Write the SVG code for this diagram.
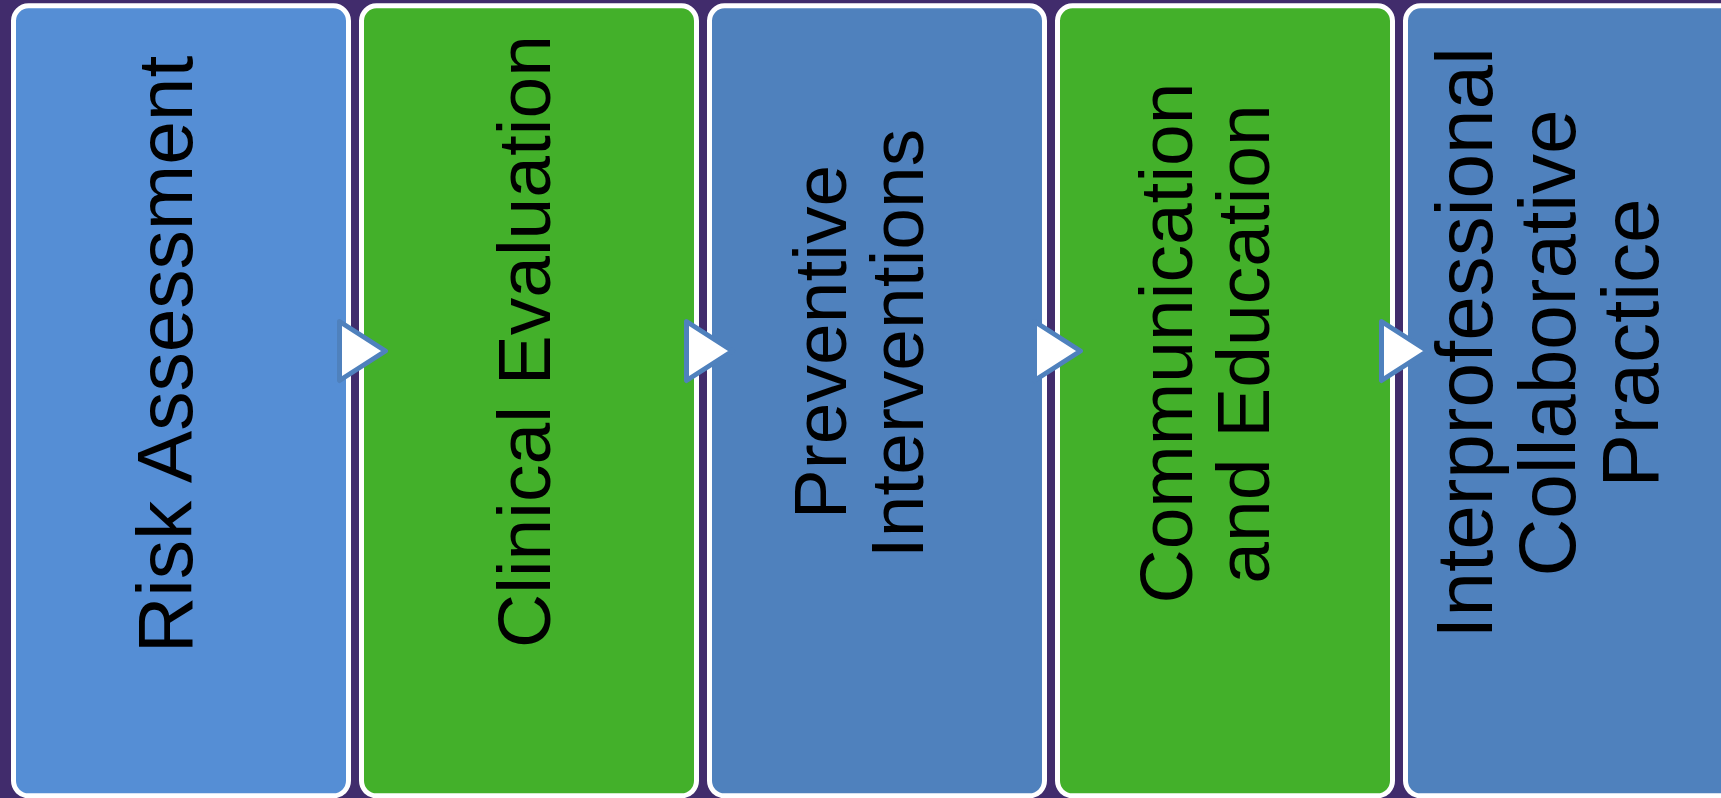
<svg xmlns="http://www.w3.org/2000/svg" width="1721" height="798" viewBox="0 0 1721 798">
  <style>
    .box { stroke: #FFFFFF; stroke-width: 5; }
    .blue1 { fill: #558ED5; }
    .blue2 { fill: #4F81BD; }
    .green { fill: #43B02A; }
    .label { font-family: "Liberation Sans", Arial, sans-serif; font-size: 75px; fill: #000000; text-anchor: middle; }
    .label1 { font-size: 78.5px; }
    .label5 { font-size: 80px; }
    .arrow { fill: #FFFFFF; stroke: #4F81BD; stroke-width: 5; stroke-linejoin: round; }
  </style>
  <defs>
    <path id="chevron" d="M2.5,321.5 L48.5,351 L2.5,380.5 Z"/>
  </defs>

  <!-- background -->
  <rect x="0" y="0" width="1721" height="798" fill="#412C6C"/>

  <!-- process steps -->
  <g id="step-risk-assessment">
    <rect class="box blue1" x="13.5" y="5.8" width="335" height="790" rx="15"/>
    <text class="label label1" transform="translate(192,354.5) rotate(-90)">Risk Assessment</text>
  </g>

  <g id="step-clinical-evaluation">
    <rect class="box green" x="361.5" y="5.8" width="335" height="790" rx="15"/>
    <text class="label" transform="translate(550,341.5) rotate(-90)">Clinical Evaluation</text>
  </g>

  <g id="step-preventive-interventions">
    <rect class="box blue2" x="709.5" y="5.8" width="335" height="790" rx="15"/>
    <text class="label" transform="translate(846,342) rotate(-90)">Preventive</text>
    <text class="label" transform="translate(923,343.5) rotate(-90)">Interventions</text>
  </g>

  <g id="step-communication-education">
    <rect class="box green" x="1057.5" y="5.8" width="335" height="790" rx="15"/>
    <text class="label" transform="translate(1192,343) rotate(-90)">Communication</text>
    <text class="label" transform="translate(1269,344) rotate(-90)">and Education</text>
  </g>

  <g id="step-interprofessional-practice">
    <rect class="box blue2" x="1405.5" y="5.8" width="335" height="790" rx="15"/>
    <text class="label label5" transform="translate(1492,343) rotate(-90)">Interprofessional</text>
    <text class="label label5" transform="translate(1575,343) rotate(-90)">Collaborative</text>
    <text class="label label5" transform="translate(1658,343) rotate(-90)">Practice</text>
  </g>

  <!-- connectors between steps -->
  <g id="connectors">
    <use href="#chevron" class="arrow" transform="translate(337,0)"/>
    <use href="#chevron" class="arrow" transform="translate(684,0)"/>
    <use href="#chevron" class="arrow" transform="translate(1032,0)"/>
    <use href="#chevron" class="arrow" transform="translate(1379,0)"/>
  </g>
</svg>
